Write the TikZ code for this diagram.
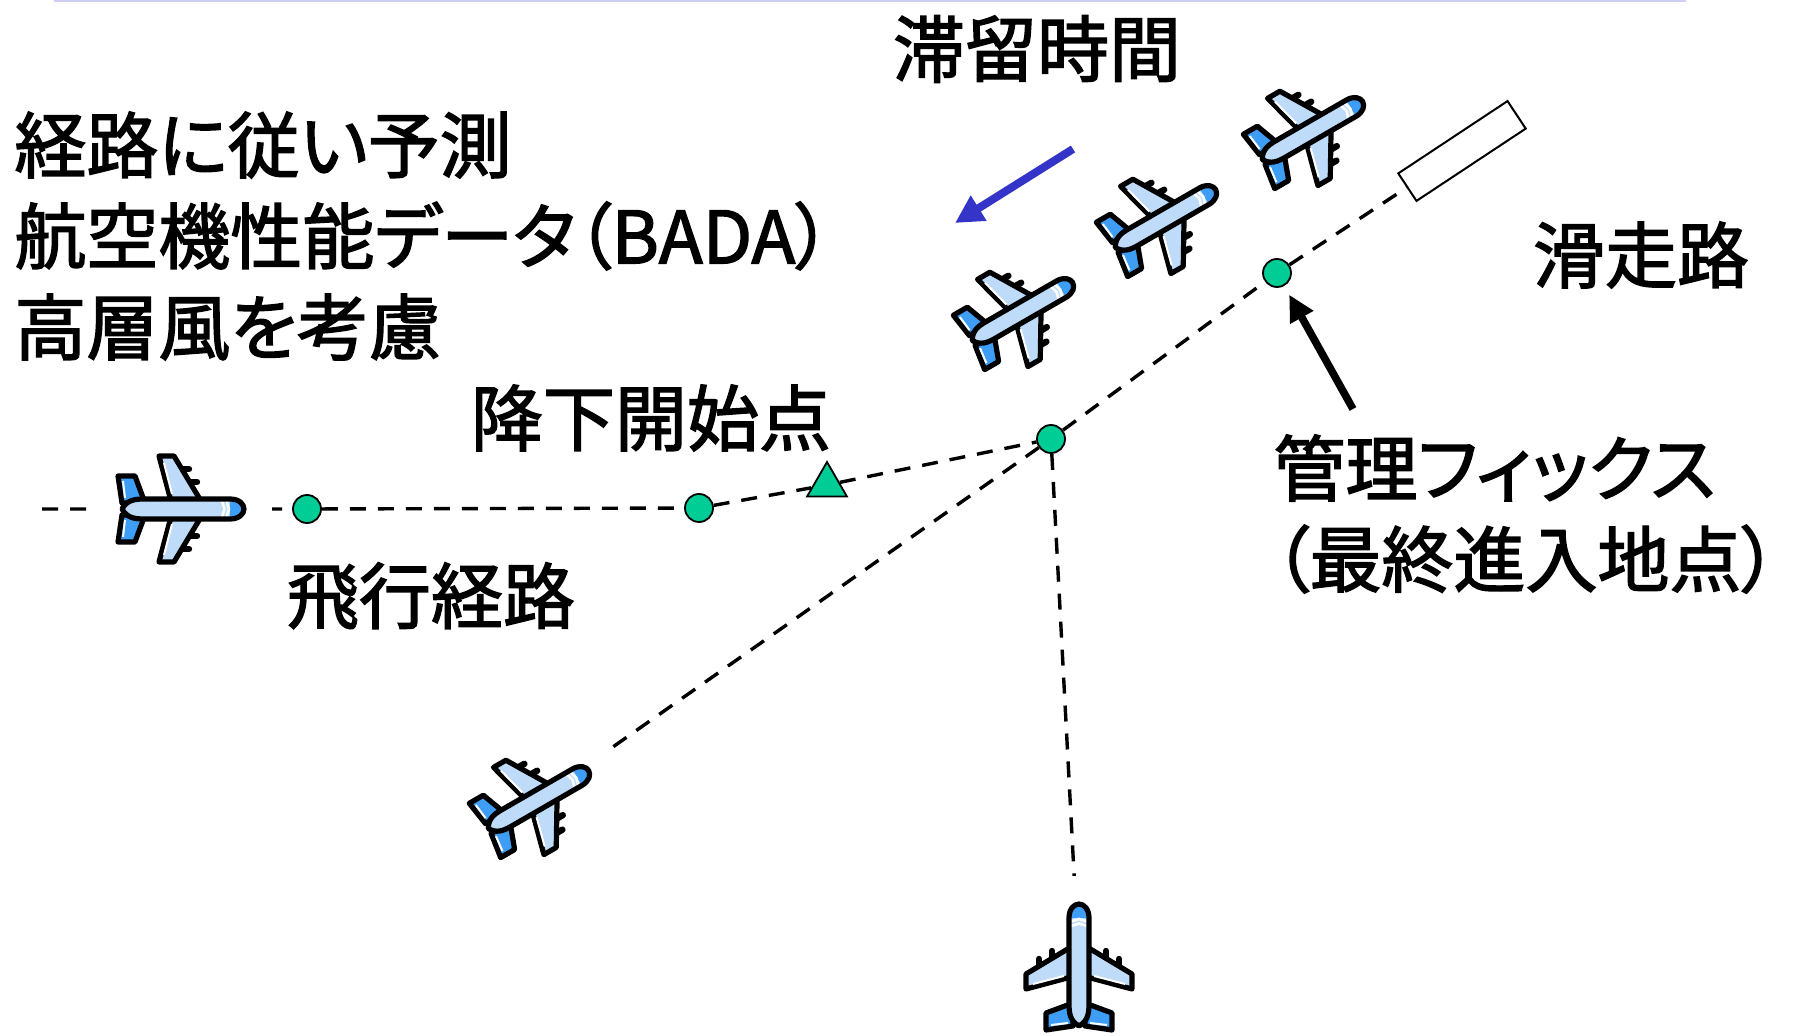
\documentclass[tikz,border=0pt]{standalone}
\usepackage{fontspec}
\setmainfont{Noto Sans CJK JP}[RawFeature=+palt, FakeBold=2]
\usepackage{tikz}
\usetikzlibrary{arrows.meta,positioning,shapes.geometric}
\definecolor{fixgreen}{RGB}{0,204,150}
\definecolor{holdblue}{RGB}{52,52,200}
\definecolor{planelight}{RGB}{190,220,250}
\definecolor{planeblue}{RGB}{62,158,245}
\definecolor{slideline}{RGB}{205,205,245}
\tikzset{
  fixpt/.style={circle, draw=black, line width=0.9pt, fill=fixgreen, minimum size=14pt, inner sep=0pt},
  todpt/.style={regular polygon, regular polygon sides=3, draw=black, line width=0.9pt, fill=fixgreen,
                minimum size=23pt, inner sep=0pt},
  runway/.style={rectangle, draw=black, line width=1pt, fill=white, minimum width=65.5pt,
                 minimum height=16.5pt, inner sep=0pt},
  route/.style={line width=1.7pt, dash pattern=on 8pt off 6pt},
  lbl/.style={font=\fontsize{36}{45.5}\selectfont, inner sep=0pt, align=left},
  hold/.style={-{Triangle[length=14pt,width=14pt]}, line width=4pt, draw=holdblue},
  pointer/.style={-{Triangle[length=13pt,width=12.5pt]}, line width=3.8pt},
  planeline/.style={draw=black, line width=2.6pt, line join=round},
  airliner/.pic={
    \fill[white] (-92,-62) rectangle (92,62);
    \foreach \s in {1,-1}{
      \draw[line width=3.2pt, line cap=round] (1,-40*\s) -- (9,-40*\s);
      \draw[line width=3.2pt, line cap=round] (9,-27*\s) -- (17,-27*\s);
      \draw[planeline, fill=planelight] (-9,-8*\s) -- (-21,-53*\s) -- (-6,-53*\s) -- (21,-8*\s) -- cycle;
      \draw[white, line width=1pt] (-16,-46*\s) -- (-8,-15*\s);
      \draw[planeline, fill=planeblue] (-58,-6*\s) -- (-62,-33*\s) -- (-45,-33*\s) -- (-35,-6*\s) -- cycle;
      \draw[white, line width=1pt] (-57,-28*\s) -- (-55,-11*\s);
    }
    \fill[planelight] (-58,0) .. controls (-53,-9) and (-45,-10) .. (-36,-10) -- (50,-10)
      .. controls (59,-10) and (64,-5) .. (64,0) .. controls (64,5) and (59,10) .. (50,10)
      -- (-36,10) .. controls (-45,10) and (-53,9) .. (-58,0) -- cycle;
    \fill[planeblue] (50,-8) .. controls (58,-8) and (62,-4) .. (62,0)
      .. controls (62,4) and (58,8) .. (50,8) -- cycle;
    \draw[white, line width=1.3pt] (42,-8) -- (44.5,0) -- (42,8);
    \draw[white, line width=1.3pt] (46.5,-8) -- (49,0) -- (46.5,8);
    \draw[planeline] (-58,0) .. controls (-53,-9) and (-45,-10) .. (-36,-10) -- (50,-10)
      .. controls (59,-10) and (64,-5) .. (64,0) .. controls (64,5) and (59,10) .. (50,10)
      -- (-36,10) .. controls (-45,10) and (-53,9) .. (-58,0) -- cycle;
  },
}

\begin{document}
\begin{tikzpicture}[x=0.5pt, y=-0.5pt]
  \useasboundingbox (0,0) rectangle (1793,1036);
  \draw[slideline, line width=1pt] (54,1) -- (1686,1);

  % fixes on the routes
  \node[fixpt] (wp1) at (307,509) {};
  \node[fixpt] (wp2) at (699,508) {};
  \node[todpt] (tod) at (827,485) {};
  \node[fixpt] (hub) at (1051,439) {};
  \node[fixpt] (faf) at (1277,273) {};
  \node[runway, rotate=33.5] (rwy) at (1462,151) {};

  \coordinate (start) at (42,509);
  \coordinate (acW) at (180,509);
  \coordinate (acSW) at (536,801);
  \coordinate (acS) at (1079,968);
  \coordinate (hold1) at (1020,313);
  \coordinate (hold2) at (1163,220);
  \coordinate (hold3) at (1310,132);

  \draw[route] (start) -- (wp1) -- (wp2) -- (tod) -- (hub) -- (faf) -- (rwy.west);
  \draw[route] (hub) -- (acSW);
  \draw[route] (hub) -- (acS);

  % aircraft
  \pic at (acW) {airliner};
  \pic[rotate=30, scale=0.95] at (acSW) {airliner};
  \pic[rotate=90] at (acS) {airliner};
  \pic[rotate=30, scale=0.95] at (hold1) {airliner};
  \pic[rotate=30, scale=0.95] at (hold2) {airliner};
  \pic[rotate=30, scale=0.95] at (hold3) {airliner};

  \coordinate (holdtail) at (1073,149);
  \coordinate (holdhead) at (955,223);
  \draw[hold] (holdtail) -- (holdhead);
  \coordinate (fafnote) at (1353,409);
  \draw[pointer, shorten >=5pt] (fafnote) -- (faf);

  % labels
  \node[lbl] (stay) at (1037,49) {滞留時間};
  \node[lbl, anchor=west] (model) at (14,236) {経路に従い予測\\航空機性能データ（BADA）\\高層風を考慮};
  \node[lbl] (todlbl) at (651,418) {降下開始点};
  \node[lbl] (routelbl) at (431,596) {飛行経路};
  \node[lbl] (rwylbl) at (1641,255) {滑走路};
  \node[lbl, anchor=west] (faflbl) at (1273,514) {管理フィックス\\（最終進入地点）};
\end{tikzpicture}
\end{document}
